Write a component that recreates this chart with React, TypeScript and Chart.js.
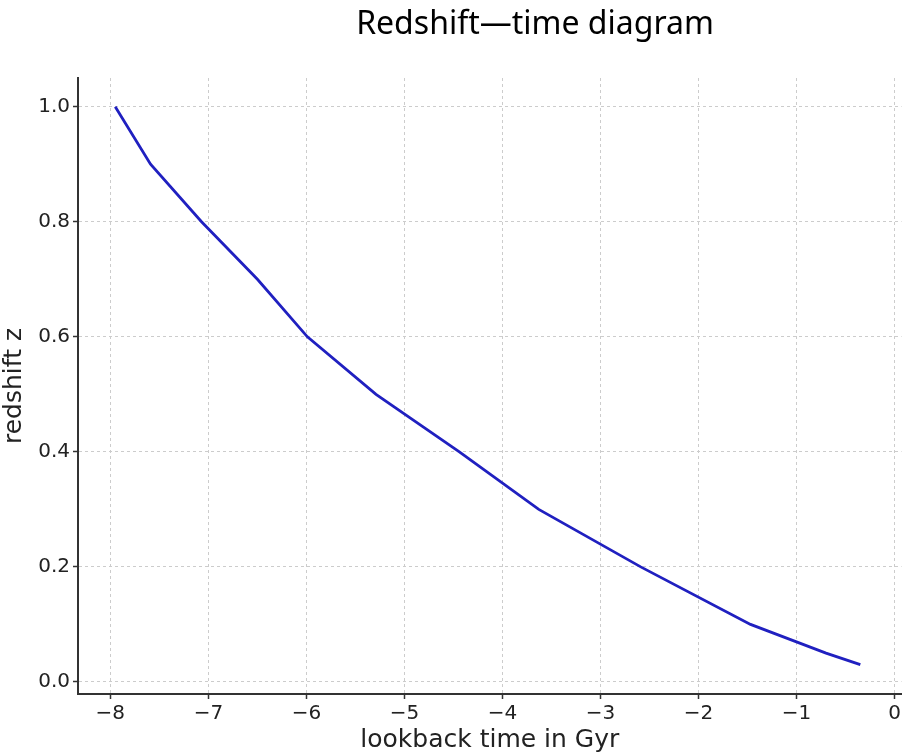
import React, { useEffect, useRef } from "react";
import { Chart, registerables } from "chart.js";

Chart.register(...registerables);

const lookbackTime = [-7.95, -7.59, -7.07, -6.5, -5.99, -5.29, -4.44, -3.63, -2.59, -1.47, -0.7, -0.35];
const redshift = [1.0, 0.9, 0.8, 0.7, 0.6, 0.5, 0.4, 0.3, 0.2, 0.1, 0.05, 0.03];
const xTicks = [-8, -7, -6, -5, -4, -3, -2, -1, 0];
const yTicks = [0.0, 0.2, 0.4, 0.6, 0.8, 1.0];
const titleText = "Redshift—time diagram";
const xTitle = "lookback time in Gyr";
const yTitle = "redshift z";

const titlePlugin = {
  id: "customTitle",
  afterDraw(chart: any) {
    const ctx = chart.ctx;
    ctx.save();
    ctx.font = "32px 'Noto Sans', 'Open Sans', sans-serif";
    ctx.fillStyle = "#000";
    ctx.textAlign = "center";
    ctx.textBaseline = "middle";
    ctx.fillText(titleText, 535, 25);
    ctx.restore();
  },
};

export default function App() {
  const ref = useRef<HTMLCanvasElement>(null);
  useEffect(() => {
    document.body.style.margin = "0";
    const tickFont = { family: "'DejaVu Sans', sans-serif", size: 20 };
    const titleFont = { family: "'DejaVu Sans', sans-serif", size: 25, lineHeight: 1.0 };
    const gridOpts = {
      color: "#cccccc",
      lineWidth: 1,
      tickColor: "#333",
      tickBorderDash: [],
      tickLength: 5,
      tickWidth: 1.5,
    };
    const chart = new Chart(ref.current!, {
      type: "line",
      data: {
        datasets: [
          {
            data: lookbackTime.map((x, i) => ({ x, y: redshift[i] })),
            borderColor: "#2020c0",
            borderWidth: 2.8,
            pointRadius: 0,
            tension: 0,
            fill: false,
          },
        ],
      },
      options: {
        animation: false,
        responsive: false,
        maintainAspectRatio: false,
        layout: { padding: { top: 78, right: 0, left: 0, bottom: 0 } },
        plugins: { legend: { display: false }, tooltip: { enabled: false } },
        scales: {
          x: {
            type: "linear",
            min: -8.33,
            max: 0.07,
            afterBuildTicks: (s: any) => {
              s.ticks = xTicks.map((v) => ({ value: v }));
            },
            afterFit: (s: any) => {
              s.height = 59;
            },
            grid: gridOpts,
            border: { color: "#333", width: 2, dash: [3, 3] },
            ticks: {
              font: tickFont,
              color: "#222",
              padding: 3,
              maxRotation: 0,
              callback: (v: any) => (Number(v) < 0 ? "−" + Math.abs(Number(v)) : String(v)),
            },
            title: {
              display: true,
              text: xTitle,
              font: titleFont,
              color: "#222",
              padding: { top: 0, bottom: 0 },
            },
          },
          y: {
            type: "linear",
            min: -0.021,
            max: 1.05,
            afterBuildTicks: (s: any) => {
              s.ticks = yTicks.map((v) => ({ value: v }));
            },
            afterFit: (s: any) => {
              s.width = 78;
            },
            grid: gridOpts,
            border: { color: "#333", width: 2, dash: [3, 3] },
            ticks: {
              font: tickFont,
              color: "#222",
              padding: 3,
              callback: (v: any) => Number(v).toFixed(1),
            },
            title: {
              display: true,
              text: yTitle,
              font: titleFont,
              color: "#222",
              padding: { top: 2, bottom: 0 },
            },
          },
        },
      },
      plugins: [titlePlugin],
    });
    return () => chart.destroy();
  }, []);
  return (
    <div style={{ position: "absolute", left: 0, top: 0, width: 904, height: 753, background: "#fff" }}>
      <canvas ref={ref} width={904} height={753} style={{ display: "block" }} />
    </div>
  );
}
